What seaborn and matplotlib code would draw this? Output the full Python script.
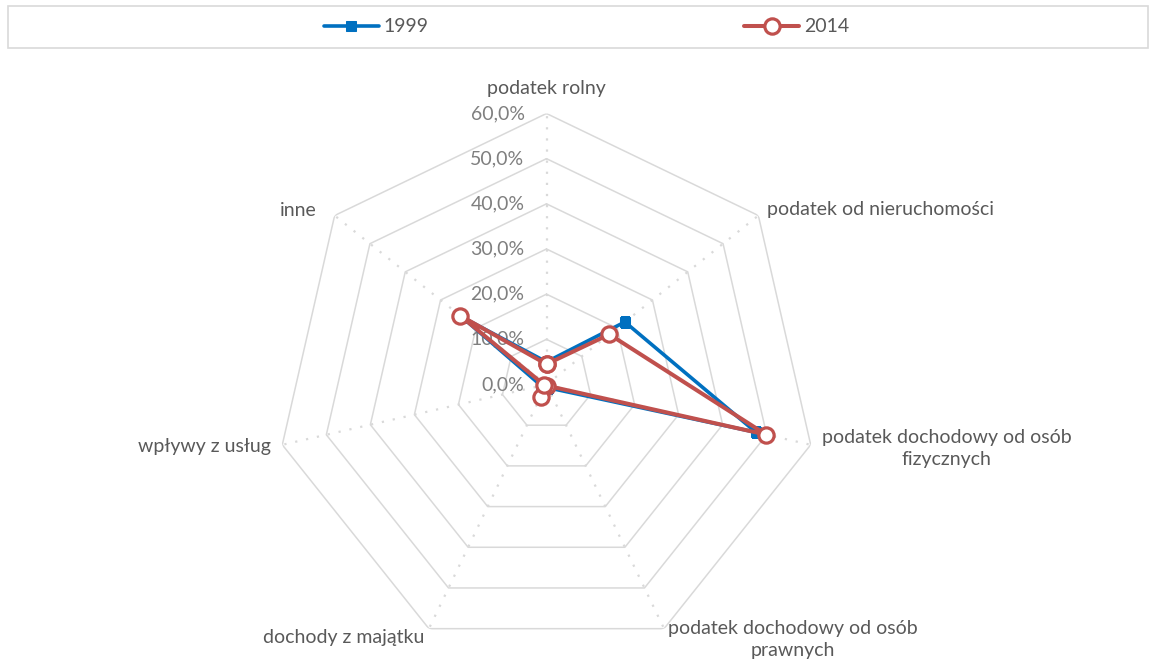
import numpy as np
import pandas as pd
import matplotlib
matplotlib.use("Agg")
import matplotlib.pyplot as plt
from matplotlib.patches import Rectangle
import seaborn as sns

# data (share of revenue, fraction)
kategorie = ["podatek rolny", "podatek od nieruchomości",
             "podatek dochodowy od osób\nfizycznych",
             "podatek dochodowy od osób\nprawnych",
             "dochody z majątku", "wpływy z usług", "inne"]
v1999 = [0.050, 0.222, 0.476, 0.008, 0.010, 0.012, 0.240]
v2014 = [0.045, 0.178, 0.499, 0.003, 0.030, 0.005, 0.245]
lata = ["1999", "2014"]
ticks = [0.0, 0.1, 0.2, 0.3, 0.4, 0.5, 0.6]
tick_labels = ["0,0%", "10,0%", "20,0%", "30,0%", "40,0%", "50,0%", "60,0%"]

sns.set_theme(style="white")
plt.rcParams['font.family'] = ['Lato', 'DejaVu Sans']

n = len(kategorie)
theta = np.linspace(0, 2 * np.pi, n, endpoint=False)
theta_c = np.append(theta, 2 * np.pi)

fig = plt.figure(figsize=(11.51, 6.60), dpi=100)
W, H = 1151, 660
cx, cy, R = 546.5, 384.5, 271
ax = fig.add_axes([(cx - R) / W, (H - cy - R) / H, 2 * R / W, 2 * R / H], projection="polar")
ax.set_theta_zero_location("N")
ax.set_theta_direction(-1)
ax.set_ylim(0, 0.6)
ax.grid(False)
ax.spines["polar"].set_visible(False)
ax.set_xticks([])
ax.set_yticks([])
ax.patch.set_alpha(0)

grid_col = "#d9d9d9"
# heptagon rings
for t in ticks[1:]:
    ax.plot(theta_c, [t] * (n + 1), color=grid_col, lw=1.1, zorder=1)
# spokes
for th in theta:
    ax.plot([th, th], [0, 0.6], color=grid_col, lw=1.6, ls=(0, (1, 4)), zorder=1)

fs = 14
# tick labels along the top spoke
for t, lab in zip(ticks, tick_labels):
    ax.annotate(lab, xy=(0, t), xytext=(-22, 0), textcoords="offset pixels",
                ha="right", va="center", fontsize=fs, color="#7f7f7f", zorder=2)

# category labels
offs = [((0, 25), "center", "center"),
        ((9, 6), "left", "center"),
        ((11, -4), "left", "center"),
        ((4, 9), "left", "top"),
        ((-5, -9), "right", "center"),
        ((-11, -2), "right", "center"),
        ((-18, 5), "right", "center")]
for th, lab, (o, ha, va) in zip(theta, kategorie, offs):
    ax.annotate(lab, xy=(th, 0.6), xytext=o, textcoords="offset pixels",
                ha=ha, va=va, fontsize=fs, color="#595959",
                multialignment="center", linespacing=1.38, annotation_clip=False)

df = pd.DataFrame({"theta": np.concatenate([theta_c, theta_c]),
                   "val": np.concatenate([v1999 + v1999[:1], v2014 + v2014[:1]]),
                   "rok": [lata[0]] * (n + 1) + [lata[1]] * (n + 1)})

blue, red = "#0070c0", "#c0504d"
d = df[df.rok == "1999"]
sns.lineplot(x=d.theta.values, y=d.val.values, sort=False, estimator=None, ax=ax,
             color=blue, lw=2.6, marker="s", markersize=7, markeredgecolor=blue,
             markerfacecolor=blue, label="1999", zorder=3, legend=False)
d = df[df.rok == "2014"]
sns.lineplot(x=d.theta.values, y=d.val.values, sort=False, estimator=None, ax=ax,
             color=red, lw=2.9, marker="o", markersize=11, markeredgecolor=red,
             markeredgewidth=2.3, markerfacecolor="white", label="2014", zorder=4,
             legend=False)
ax.set_xlabel("")
ax.set_ylabel("")

# legend box on top
fig.patches.append(Rectangle((8 / W, 1 - 48 / H), 1140 / W, 42 / H, transform=fig.transFigure,
                             fill=False, edgecolor="#d9d9d9", lw=1.2))
h, l = ax.get_legend_handles_labels()
fig.legend(h, l, loc="center", bbox_to_anchor=(586.5 / W, 1 - 27 / H), ncol=2, frameon=False,
           fontsize=fs, handlelength=2.85, handletextpad=0.25, columnspacing=16.2,
           labelcolor="#595959")

fig.savefig("out.png", dpi=100)
